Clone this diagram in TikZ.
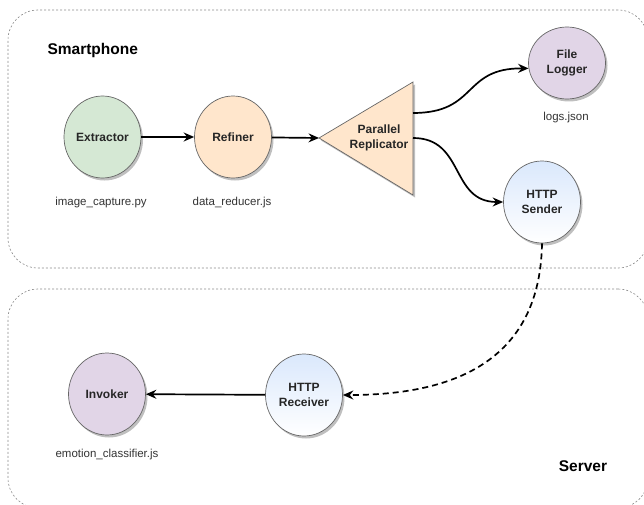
\documentclass[tikz,border=0pt]{standalone}
\usepackage{fontspec}
\setmainfont{Liberation Sans}
\usetikzlibrary{arrows.meta,shadows,shapes.geometric}
\definecolor{grn}{HTML}{D5E8D4}
\definecolor{org}{HTML}{FFE6CC}
\definecolor{pur}{HTML}{E1D5E7}
\definecolor{blu}{HTML}{DAE8FC}
\definecolor{bord}{HTML}{666666}
\definecolor{regc}{HTML}{8A8A8A}
\begin{document}
\begin{tikzpicture}[x=1pt,y=-1pt,
  region/.style={draw=regc, dash pattern=on 2pt off 2pt, line width=0.6pt, rounded corners=30pt, inner sep=0pt},
  proc/.style={ellipse, draw=bord, line width=0.7pt, minimum width=77pt, minimum height=82pt, inner sep=0pt, align=center,
    font=\bfseries\fontsize{12}{15}\selectfont, text=black!85,
    drop shadow={shadow xshift=2pt, shadow yshift=-2.5pt, opacity=0.25, fill=black}},
  httpnode/.style={proc, top color=blu, bottom color=white},
  sub/.style={font=\fontsize{11.5}{14}\selectfont, text=black!80},
  title/.style={font=\bfseries\fontsize{15.5}{18}\selectfont},
  conn/.style={line width=1.7pt, -{Stealth[length=10.5pt, width=9pt, inset=3.5pt]}},
  ]
\useasboundingbox (0,0) rectangle (644,505);
\clip (0,0) rectangle (644,505);

% regions
\node[region, minimum width=640pt, minimum height=258pt] (phone) at (328,139) {};
\node[region, minimum width=640pt, minimum height=219pt] (server) at (328,398.5) {};
\node[title, anchor=west] (lphone) at (44,50) {Smartphone};
\node[title] (lserver) at (583,466) {Server};

% nodes
\node[proc, fill=grn] (ext) at (102.5,137) {Extractor};
\node[proc, fill=org] (ref) at (233,137) {Refiner};
\node[proc, fill=pur, minimum height=72pt] (flog) at (567,63) {File\\Logger};
\node[httpnode] (snd) at (542,202) {HTTP\\Sender};
\node[httpnode] (rcv) at (304,395) {HTTP\\Receiver};
\node[proc, fill=pur] (inv) at (107,394) {Invoker};

% parallel replicator triangle
\draw[draw=bord, line width=0.7pt, fill=org, drop shadow={shadow xshift=2pt, shadow yshift=-2.5pt, opacity=0.25, fill=black}]
  (319,138) -- (413,82) -- (413,195) -- cycle;
\node[font=\bfseries\fontsize{12}{15}\selectfont, text=black!85, align=center] (rep) at (379,138) {Parallel\\Replicator};
\coordinate (repin) at (319,138);
\coordinate (repa) at (413,113);
\coordinate (repb) at (413,138);

% sub labels
\node[sub] (lext) at (101,203) {image\_capture.py};
\node[sub] (lref) at (232,203) {data\_reducer.js};
\node[sub] (lflog) at (566,118) {logs.json};
\node[sub] (linv) at (107,455) {emotion\_classifier.js};

% connectors
\draw[conn] (ext) -- (ref);
\draw[conn] (ref) -- (repin);
\draw[conn] (repa) .. controls (478,113) and (462,68) .. (flog.188);
\draw[conn] (repb) .. controls (465,138) and (450,202) .. (snd.west);
\draw[conn, dash pattern=on 6pt off 4pt] (snd.south) .. controls (540,370) and (440,395) .. (rcv.east);
\draw[conn] (rcv) -- (inv);
\end{tikzpicture}
\end{document}
